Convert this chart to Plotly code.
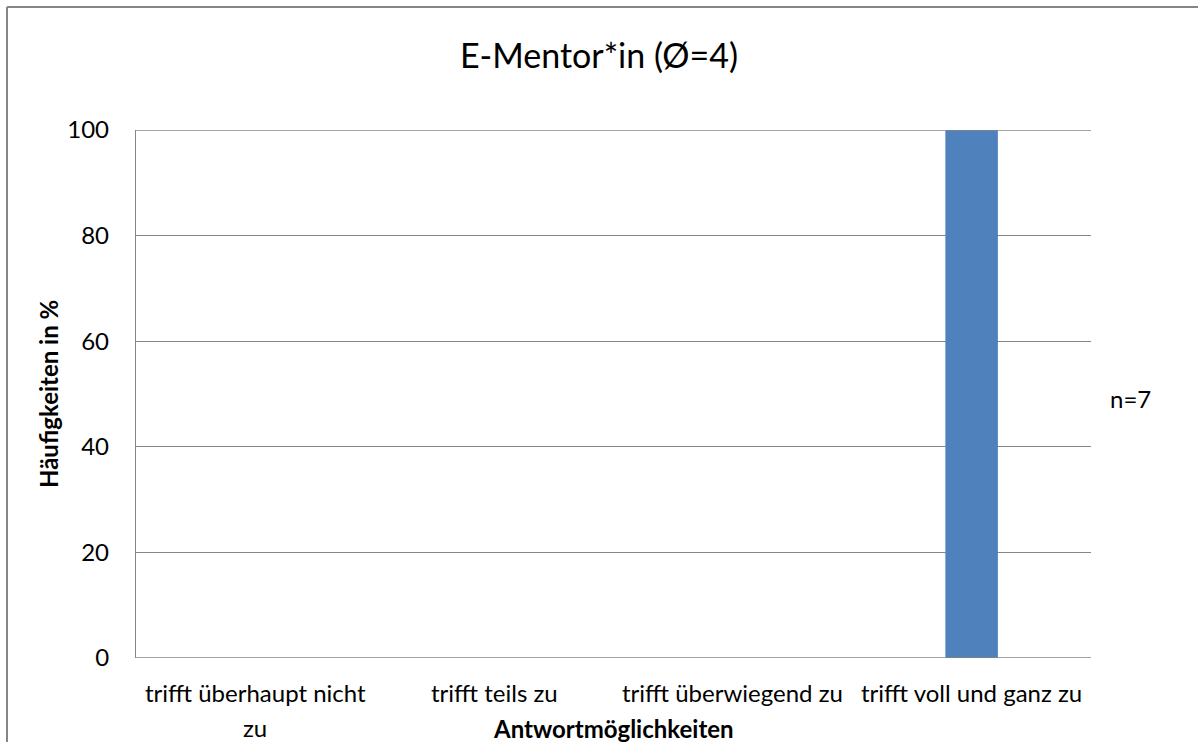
import plotly.graph_objects as go

categories = ["trifft überhaupt nicht zu", "trifft teils zu", "trifft überwiegend zu", "trifft voll und ganz zu"]
tick_labels = ["trifft überhaupt nicht<br>zu", "trifft teils zu", "trifft überwiegend zu", "trifft voll und ganz zu"]
values = [0, 0, 0, 100]
y_ticks = [0, 20, 40, 60, 80, 100]

W, H = 1198, 742
L, R, T, B = 136, 107, 130, 84
pw, ph = W - L - R, H - T - B

def px(x):
    return (x - L) / pw

def py(y):
    return (H - B - y) / ph

FONT = "Lato"
GRID = "#868686"

fig = go.Figure()
fig.add_trace(go.Bar(
    x=categories, y=values,
    marker=dict(color="#4F81BD", line=dict(width=0)),
))

fig.update_layout(
    width=W, height=H,
    margin=dict(l=L, r=R, t=T, b=B, pad=0),
    paper_bgcolor="white", plot_bgcolor="white",
    showlegend=False,
    font=dict(family=FONT, color="black", size=24),
    title=dict(text="E-Mentor*in (Ø=4)", x=0.5, xanchor="center",
               y=1 - 56 / H, yanchor="middle",
               font=dict(family=FONT, size=34, color="black")),
    xaxis=dict(
        type="category", showticklabels=False, showgrid=False,
        showline=False, zeroline=False, ticks="",
    ),
    yaxis=dict(
        range=[0, 100], tickvals=y_ticks, ticktext=[str(v) for v in y_ticks],
        showgrid=True, gridcolor=GRID, gridwidth=1.3,
        showline=True, linecolor=GRID, linewidth=1.3,
        zeroline=False, ticks="", ticklen=0, ticklabelstandoff=21,
        tickfont=dict(family=FONT, size=24),
    ),
    bargap=0.78,
)

# gridline at 100 and bottom axis line
fig.add_shape(type="line", xref="paper", yref="y", x0=0, x1=1, y0=y_ticks[-1], y1=y_ticks[-1],
              line=dict(color=GRID, width=1.3))
fig.add_shape(type="line", xref="paper", yref="y", x0=0, x1=1, y0=y_ticks[0], y1=y_ticks[0],
              line=dict(color=GRID, width=1.3))

# category tick labels as annotations on the category axis
for cat, lab in zip(categories, tick_labels):
    for i, ln in enumerate(lab.split("<br>")):
        fig.add_annotation(x=cat, xref="x", y=py(692 + 35 * i), yref="paper",
                           text=ln, showarrow=False, xanchor="center", yanchor="middle",
                           font=dict(family=FONT, size=24, color="black"))

fig.add_annotation(x=0.5, xref="paper", y=py(728), yref="paper",
                   text="<b>Antwortmöglichkeiten</b>", showarrow=False,
                   xanchor="center", yanchor="middle",
                   font=dict(family=FONT, size=24, color="black"))

fig.add_annotation(x=px(48), xref="paper", y=0.5, yref="paper",
                   text="<b>Häufigkeiten in %</b>", showarrow=False, textangle=-90,
                   xanchor="center", yanchor="middle",
                   font=dict(family=FONT, size=24, color="black"))

fig.add_annotation(x=px(1108), xref="paper", y=py(398), yref="paper",
                   text="n=7", showarrow=False, xanchor="left", yanchor="middle",
                   font=dict(family=FONT, size=24, color="black"))

# outer chart border (top and left visible)
fig.add_shape(type="line", xref="paper", yref="paper",
              x0=px(7), x1=px(7), y0=py(7), y1=py(800),
              line=dict(color=GRID, width=2))
fig.add_shape(type="line", xref="paper", yref="paper",
              x0=px(7), x1=px(1250), y0=py(7), y1=py(7),
              line=dict(color=GRID, width=2))

fig.write_html("out.html")
